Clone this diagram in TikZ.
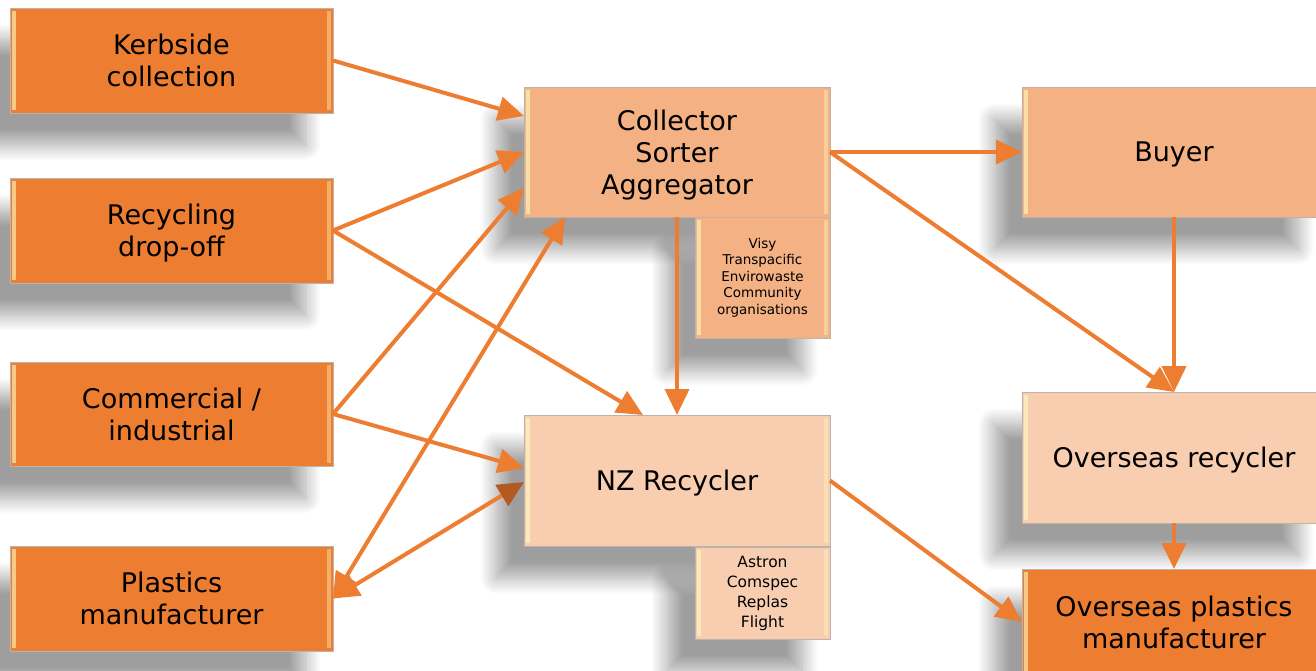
\documentclass[tikz,border=0pt]{standalone}
\usepackage{fontspec}
\setmainfont{DejaVu Sans}
\usetikzlibrary{arrows.meta,shadows.blur}
\definecolor{dorange}{HTML}{ED7D31}
\definecolor{midpeach}{HTML}{F4B183}
\definecolor{lightpeach}{HTML}{F8CDB0}
\definecolor{arrowc}{HTML}{ED7D31}
\definecolor{darkhead}{HTML}{B35A22}
\definecolor{edgegray}{HTML}{BDB3AA}
\tikzset{
  bevel/.style={path picture={
    \fill[yellow!25!white,opacity=0.6] ([xshift=2pt,yshift=-3pt]path picture bounding box.north west) rectangle ([xshift=6pt,yshift=3pt]path picture bounding box.south west);
    \fill[yellow!25!white,opacity=0.4] ([xshift=-6pt,yshift=-3pt]path picture bounding box.north east) rectangle ([xshift=-2pt,yshift=3pt]path picture bounding box.south east);
  }},
  basebox/.style={draw=edgegray, line width=0.8pt, anchor=north west, inner sep=0pt, outer sep=0pt,
    align=center,
    blur shadow={shadow xshift=-28pt, shadow yshift=-32pt, shadow blur radius=16pt, shadow blur steps=24, shadow opacity=38},
    bevel},
  box/.style={basebox, font=\fontsize{27}{32}\selectfont, text depth=0pt},
  smallbox/.style={basebox, font=\fontsize{13.5}{16.5}\selectfont},
  smallbox2/.style={basebox, font=\fontsize{15.5}{20}\selectfont},
  >={Triangle[length=26pt,width=24pt]},
  flow/.style={draw=arrowc, line width=4pt, ->},
  flow2/.style={draw=arrowc, line width=4pt, <->},
}
\begin{document}
\begin{tikzpicture}[x=1pt,y=-1pt]
\useasboundingbox (0,0) rectangle (1316,671);
% sources
\node[box, fill=dorange, minimum width=323pt, minimum height=105pt] (kerb) at (10,8) {Kerbside\\collection};
\node[box, fill=dorange, minimum width=323pt, minimum height=105pt] (recyc) at (10,178) {Recycling\\drop-off};
\node[box, fill=dorange, minimum width=323pt, minimum height=104pt] (comm) at (10,362) {Commercial /\\industrial};
\node[box, fill=dorange, minimum width=323pt, minimum height=105pt] (plast) at (10,546) {Plastics\\manufacturer};
% middle
\node[box, fill=midpeach, minimum width=306pt, minimum height=130pt] (coll) at (524,87) {Collector\\Sorter\\Aggregator};
\node[box, fill=lightpeach, minimum width=306pt, minimum height=131pt] (nz) at (524,415) {NZ Recycler};
\node[smallbox, fill=midpeach, minimum width=135pt, minimum height=121pt] (visy) at (695,217) {Visy\\Transpacific\\Envirowaste\\Community\\organisations};
\node[smallbox2, fill=lightpeach, minimum width=135pt, minimum height=92pt] (astron) at (695,547) {Astron\\Comspec\\Replas\\Flight};
% right
\node[box, fill=midpeach, minimum width=304pt, minimum height=130pt] (buyer) at (1022,87) {Buyer};
\node[box, fill=lightpeach, minimum width=304pt, minimum height=131pt] (osr) at (1022,392) {Overseas recycler};
\node[box, fill=dorange, minimum width=304pt, minimum height=106pt] (osp) at (1022,569) {Overseas plastics\\manufacturer};
% connectors
\draw[flow] (kerb.east) -- ([yshift=36pt]coll.west);
\draw[flow] (recyc.east) -- (coll.west);
\draw[flow] (comm.east) -- ([yshift=-36pt]coll.west);
\draw[flow2] (plast.east) -- ([xshift=41pt]coll.south west);
\draw[flow] (recyc.east) -- ([xshift=119pt]nz.north west);
\draw[flow] (coll.south) -- (nz.north);
\draw[flow] (comm.east) -- ([yshift=12.5pt]nz.west);
\draw[draw=arrowc, line width=4pt, {Triangle[length=26pt,width=24pt]}-{Triangle[length=26pt,width=24pt,color=darkhead]}] (plast.east) -- ([yshift=-1.5pt]nz.west);
\draw[flow] (coll.east) -- (buyer.west);
\draw[flow] (coll.east) -- (osr.north);
\draw[flow] (buyer.south) -- (osr.north);
\draw[flow] (osr.south) -- (osp.north);
\draw[flow] (nz.east) -- (osp.west);
\end{tikzpicture}
\end{document}
